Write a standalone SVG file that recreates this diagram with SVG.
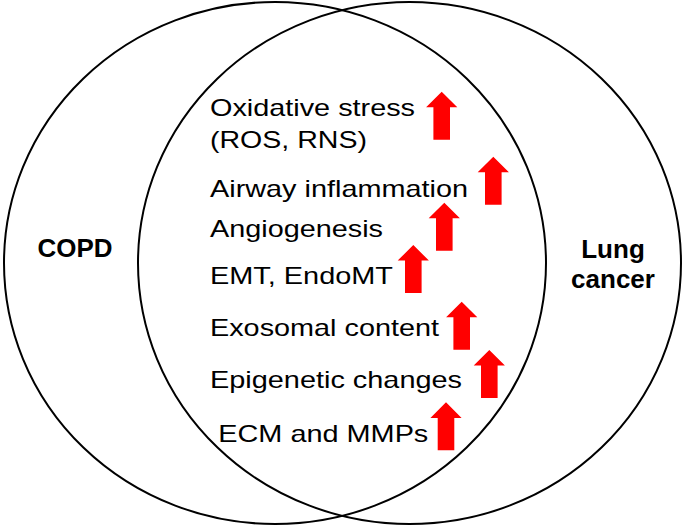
<svg xmlns="http://www.w3.org/2000/svg" width="685" height="528" viewBox="0 0 685 528">
  <style>
    .ring { fill: none; stroke: #000; stroke-width: 2; }
    .item { font-family: "Liberation Sans", Arial, sans-serif; font-size: 24px; fill: #000; }
    .set { font-family: "Liberation Sans", Arial, sans-serif; font-size: 26px; font-weight: bold; fill: #000; text-anchor: middle; }
    .up { fill: #FF0000; }
  </style>
  <defs>
    <path id="arrow" d="M0,0 L15.6,15.6 L8.3,15.6 L8.3,48 L-8.3,48 L-8.3,15.6 L-15.6,15.6 Z"/>
  </defs>
  <rect width="685" height="528" fill="#fff"/>
  <g id="copd">
    <ellipse class="ring" cx="275" cy="263" rx="271" ry="261"/>
    <text class="set" x="75" y="257" textLength="75" lengthAdjust="spacingAndGlyphs">COPD</text>
  </g>
  <g id="lung-cancer">
    <ellipse class="ring" cx="409.5" cy="263" rx="271.5" ry="261"/>
    <text class="set" x="613" y="258">Lung</text>
    <text class="set" x="613" y="288">cancer</text>
  </g>
  <g id="shared">
    <g id="oxidative">
      <text class="item" x="210" y="115.5" textLength="205" lengthAdjust="spacingAndGlyphs">Oxidative stress</text>
      <text class="item" x="210" y="148" textLength="157" lengthAdjust="spacingAndGlyphs">(ROS, RNS)</text>
      <use href="#arrow" class="up" x="441.7" y="91.7"/>
    </g>
    <g id="airway">
      <text class="item" x="210" y="196.5" textLength="258" lengthAdjust="spacingAndGlyphs">Airway inflammation</text>
      <use href="#arrow" class="up" x="493.3" y="156.7"/>
    </g>
    <g id="angio">
      <text class="item" x="210" y="237.3" textLength="173" lengthAdjust="spacingAndGlyphs">Angiogenesis</text>
      <use href="#arrow" class="up" x="444.3" y="202.7"/>
    </g>
    <g id="emt">
      <text class="item" x="210" y="284.3" textLength="183" lengthAdjust="spacingAndGlyphs">EMT, EndoMT</text>
      <use href="#arrow" class="up" x="413.3" y="245"/>
    </g>
    <g id="exosomal">
      <text class="item" x="210" y="336" textLength="229" lengthAdjust="spacingAndGlyphs">Exosomal content</text>
      <use href="#arrow" class="up" x="461.7" y="301.7"/>
    </g>
    <g id="epigenetic">
      <text class="item" x="210" y="387.7" textLength="252" lengthAdjust="spacingAndGlyphs">Epigenetic changes</text>
      <use href="#arrow" class="up" x="489.3" y="350"/>
    </g>
    <g id="ecm">
      <text class="item" x="218.3" y="441.7" textLength="210" lengthAdjust="spacingAndGlyphs">ECM and MMPs</text>
      <use href="#arrow" class="up" x="446" y="402.3"/>
    </g>
  </g>
</svg>
